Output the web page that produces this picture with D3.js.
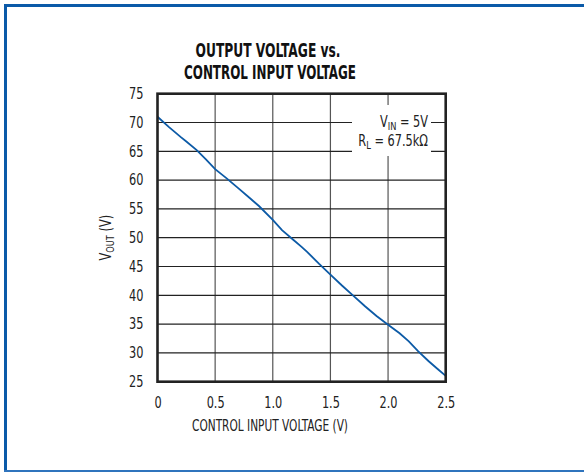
<!DOCTYPE html>
<html>
<head>
<meta charset="utf-8">
<script src="https://cdn.jsdelivr.net/npm/d3@7"></script>
<style>
  body { margin: 0; background: #fff; }
  svg text { font-family: "Liberation Sans Narrow", "DejaVu Sans Condensed", Arial, sans-serif; fill: #222; }
</style>
</head>
<body>
<div id="chart"></div>
<script>
// control input voltage (V) and output voltage (V)
var vControl = [0, 0.1, 0.2, 0.25, 0.34, 0.42, 0.5, 0.6, 0.7, 0.8, 0.88, 1.0, 1.08, 1.18, 1.25, 1.3,
                1.4, 1.5, 1.6, 1.7, 1.8, 1.9, 2.0, 2.1, 2.18, 2.26, 2.35, 2.43, 2.5];
var vOut = [71.0, 69.2, 67.5, 66.7, 65.2, 63.6, 61.9, 60.3, 58.6, 56.9, 55.5, 53.1, 51.3, 49.6, 48.4, 47.5,
            45.5, 43.6, 41.7, 39.9, 38.1, 36.4, 34.9, 33.4, 32.0, 30.3, 28.6, 27.2, 26.0];
var xTicks = [0, 0.5, 1.0, 1.5, 2.0, 2.5];
var xTickLabels = ["0", "0.5", "1.0", "1.5", "2.0", "2.5"];
var yTicks = [25, 30, 35, 40, 45, 50, 55, 60, 65, 70, 75];

var W = 584, H = 473;
var margin = {top: 93.7, left: 157.5},
    width = 288.2,
    height = 288;
var squeeze = 0.84; // narrow the condensed face toward the original

var svg = d3.select("#chart").append("svg")
    .attr("width", W)
    .attr("height", H);

// blue frame
svg.append("line").attr("x1", 5.5).attr("x2", 5.5).attr("y1", 4).attr("y2", 472)
    .attr("stroke", "#0b5aa8").attr("stroke-width", 3);
svg.append("line").attr("x1", 4).attr("x2", 584).attr("y1", 5.5).attr("y2", 5.5)
    .attr("stroke", "#0b5aa8").attr("stroke-width", 3);
svg.append("line").attr("x1", 4).attr("x2", 584).attr("y1", 471).attr("y2", 471)
    .attr("stroke", "#2f74bd").attr("stroke-width", 2);

// title
svg.append("text").attr("x", 268).attr("y", 57)
    .attr("text-anchor", "middle").attr("font-size", 20).attr("font-weight", "bold")
    .attr("textLength", 145).attr("lengthAdjust", "spacingAndGlyphs")
    .style("fill", "#111")
    .text("OUTPUT VOLTAGE vs.");
svg.append("text").attr("x", 270).attr("y", 79)
    .attr("text-anchor", "middle").attr("font-size", 20).attr("font-weight", "bold")
    .attr("textLength", 172).attr("lengthAdjust", "spacingAndGlyphs")
    .style("fill", "#111")
    .text("CONTROL INPUT VOLTAGE");

var g = svg.append("g")
    .attr("transform", "translate(" + margin.left + "," + margin.top + ")");

var x = d3.scaleLinear().domain([0, 2.5]).range([0, width]);
var y = d3.scaleLinear().domain([25, 75]).range([height, 0]);

// grid
g.selectAll(".vgrid").data(xTicks.slice(1, -1)).enter().append("line")
    .attr("x1", function(d) { return x(d); }).attr("x2", function(d) { return x(d); })
    .attr("y1", 0).attr("y2", height)
    .attr("stroke", "#555").attr("stroke-width", 1.2);
g.selectAll(".hgrid").data(yTicks.slice(1, -1)).enter().append("line")
    .attr("x1", 0).attr("x2", width)
    .attr("y1", function(d) { return y(d); }).attr("y2", function(d) { return y(d); })
    .attr("stroke", "#222").attr("stroke-width", 1.2);

// gap in the grid behind the annotation
g.append("rect")
    .attr("x", 352 - margin.left).attr("y", 105 - margin.top)
    .attr("width", 79).attr("height", 51)
    .attr("fill", "#fff");

// curve
var line = d3.line()
    .x(function(d, i) { return x(vControl[i]); })
    .y(function(d) { return y(d); });
g.append("path")
    .datum(vOut)
    .attr("d", line)
    .attr("fill", "none")
    .attr("stroke", "#0c5aa6")
    .attr("stroke-width", 1.8);

// plot frame
g.append("rect").attr("x", 0).attr("y", 0).attr("width", width).attr("height", height)
    .attr("fill", "none").attr("stroke", "#222").attr("stroke-width", 2.6);

// axes (tick labels only)
var xAxis = g.append("g")
    .attr("transform", "translate(0," + height + ")")
    .call(d3.axisBottom(x).tickValues(xTicks).tickSize(0).tickPadding(16)
        .tickFormat(function(d, i) { return xTickLabels[i]; }));
var yAxis = g.append("g")
    .call(d3.axisLeft(y).tickValues(yTicks).tickSize(0).tickPadding(14 / squeeze));
[xAxis, yAxis].forEach(function(a) {
  a.select(".domain").remove();
  a.selectAll("text").attr("font-size", 15)
      .attr("font-family", null).style("fill", "#222")
      .attr("transform", "scale(" + squeeze + ",1)");
});

// axis titles
svg.append("text").attr("x", 270).attr("y", 431)
    .attr("text-anchor", "middle").attr("font-size", 15)
    .attr("textLength", 156).attr("lengthAdjust", "spacingAndGlyphs")
    .text("CONTROL INPUT VOLTAGE (V)");

var yl = svg.append("text")
    .attr("transform", "translate(111," + (margin.top + height / 2) + ") rotate(-90) scale(" + squeeze + ",1)")
    .attr("text-anchor", "middle").attr("font-size", 15);
yl.append("tspan").text("V");
yl.append("tspan").attr("font-size", 11).attr("dy", 3).text("OUT");
yl.append("tspan").attr("dy", -3).text(" (V)");

// annotation
var a1 = svg.append("text")
    .attr("transform", "translate(428,127) scale(" + squeeze + ",1)")
    .attr("text-anchor", "end").attr("font-size", 15);
a1.append("tspan").text("V");
a1.append("tspan").attr("font-size", 11).attr("dy", 3).text("IN");
a1.append("tspan").attr("dy", -3).text(" = 5V");
var a2 = svg.append("text")
    .attr("transform", "translate(428,146) scale(" + squeeze + ",1)")
    .attr("text-anchor", "end").attr("font-size", 15);
a2.append("tspan").text("R");
a2.append("tspan").attr("font-size", 11).attr("dy", 3).text("L");
a2.append("tspan").attr("dy", -3).text(" = 67.5kΩ");
</script>
</body>
</html>
